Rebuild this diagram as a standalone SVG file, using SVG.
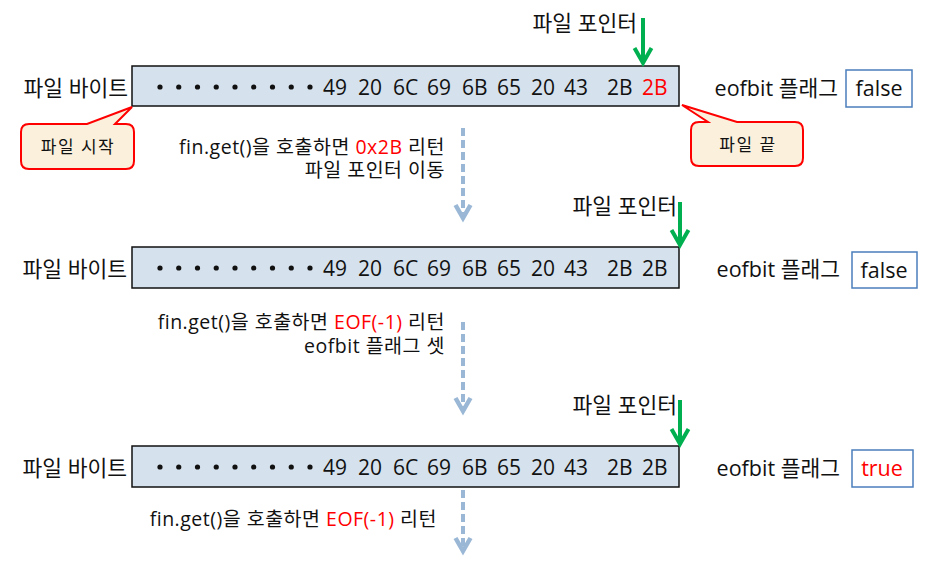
<svg xmlns="http://www.w3.org/2000/svg" width="932" height="561" viewBox="0 0 932 561">
<defs>
<style>
text{font-family:"Open Sans","Noto Sans CJK KR",sans-serif;fill:#111}
.lbl{font-size:21.5px}
.hex{font-size:21px}
.note{font-size:19.5px;letter-spacing:0.5px}
.call{font-size:17px;letter-spacing:1.5px}
.red{fill:#FF0000}
.bytes{fill:#D5E1EC;stroke:#111;stroke-width:1.5}
.flag{fill:#fff;stroke:#4A7EBB;stroke-width:1.5}
.callout{fill:#FAF0DC;stroke:#FF0000;stroke-width:2}
.ptr{stroke:#00B050;stroke-width:4;fill:none}
.step{stroke:#9AB8D6;stroke-width:4;stroke-dasharray:8 4;fill:none}
</style>
<marker id="gHead" markerUnits="userSpaceOnUse" viewBox="-18 -12 22 24" refX="0" refY="0" markerWidth="22" markerHeight="24" orient="auto" overflow="visible">
<path d="M-15,-8.5 L0,0 L-15,8.5" fill="none" stroke="#00B050" stroke-width="4"/>
</marker>
<marker id="bHead" markerUnits="userSpaceOnUse" viewBox="-16 -10 20 20" refX="0" refY="0" markerWidth="20" markerHeight="20" orient="auto" overflow="visible">
<path d="M-13,-7.5 L0,0 L-13,7.5" fill="none" stroke="#9AB8D6" stroke-width="4.5"/>
</marker>
<g id="dots">
<circle cx="160" cy="0" r="2.6"/><circle cx="178.75" cy="0" r="2.6"/><circle cx="197.5" cy="0" r="2.6"/><circle cx="216.25" cy="0" r="2.6"/><circle cx="235" cy="0" r="2.6"/><circle cx="253.75" cy="0" r="2.6"/><circle cx="272.5" cy="0" r="2.6"/><circle cx="291.25" cy="0" r="2.6"/><circle cx="310" cy="0" r="2.6"/>
</g>
</defs>

<!-- Row 1 -->
<g id="row1">
<text class="lbl" x="128" y="96" text-anchor="end">파일 바이트</text>
<rect class="bytes" x="132" y="66" width="547" height="40"/>
<use href="#dots" y="87" fill="#111"/>
<g class="hex">
<text x="323" y="95">49</text><text x="358" y="95">20</text><text x="393" y="95">6C</text><text x="427" y="95">69</text><text x="462" y="95">6B</text><text x="497" y="95">65</text><text x="531" y="95">20</text><text x="564" y="95">43</text><text x="607" y="95">2B</text><text x="642" y="95" class="red">2B</text>
</g>
<text class="lbl" x="637" y="31" text-anchor="end">파일 포인터</text>
<text class="lbl" x="838" y="96" text-anchor="end">eofbit 플래그</text>
<rect class="flag" x="846" y="70" width="66" height="37"/>
<text class="lbl" x="879" y="96" text-anchor="middle">false</text>
</g>

<g id="callout-start">
<path class="callout" d="M29,124 L87,124 L132,107 L115,124 L126,124 Q134,124 134,132 L134,161 Q134,169 126,169 L29,169 Q21,169 21,161 L21,132 Q21,124 29,124 Z"/>
<text class="call" x="78" y="153" text-anchor="middle">파일 시작</text>
</g>
<g id="callout-end">
<path class="callout" d="M699,122 L708,122 L682,105 L737,122 L795,122 Q803,122 803,130 L803,158 Q803,166 795,166 L699,166 Q691,166 691,158 L691,130 Q691,122 699,122 Z"/>
<text class="call" x="748" y="151" text-anchor="middle">파일 끝</text>
</g>

<g id="note1">
<text class="note" x="445" y="154" text-anchor="end">fin.get()을 호출하면 <tspan class="red">0x2B</tspan> 리턴</text>
<text class="note" x="445" y="177" text-anchor="end">파일 포인터 이동</text>
</g>

<!-- Row 2 -->
<g id="row2">
<text class="lbl" x="127" y="277" text-anchor="end">파일 바이트</text>
<rect class="bytes" x="132" y="247" width="547" height="41"/>
<use href="#dots" y="268" fill="#111"/>
<g class="hex">
<text x="323" y="276">49</text><text x="358" y="276">20</text><text x="393" y="276">6C</text><text x="427" y="276">69</text><text x="462" y="276">6B</text><text x="497" y="276">65</text><text x="531" y="276">20</text><text x="564" y="276">43</text><text x="607" y="276">2B</text><text x="642" y="276">2B</text>
</g>
<text class="lbl" x="677" y="214" text-anchor="end">파일 포인터</text>
<text class="lbl" x="840" y="277" text-anchor="end">eofbit 플래그</text>
<rect class="flag" x="852" y="252" width="65" height="36"/>
<text class="lbl" x="884" y="278" text-anchor="middle">false</text>
</g>

<g id="note2">
<text class="note" x="445" y="329" text-anchor="end">fin.get()을 호출하면 <tspan class="red">EOF(-1)</tspan> 리턴</text>
<text class="note" x="445" y="353" text-anchor="end">eofbit 플래그 셋</text>
</g>

<!-- Row 3 -->
<g id="row3">
<text class="lbl" x="127" y="476" text-anchor="end">파일 바이트</text>
<rect class="bytes" x="132" y="446" width="547" height="41"/>
<use href="#dots" y="467" fill="#111"/>
<g class="hex">
<text x="323" y="475">49</text><text x="358" y="475">20</text><text x="393" y="475">6C</text><text x="427" y="475">69</text><text x="462" y="475">6B</text><text x="497" y="475">65</text><text x="531" y="475">20</text><text x="564" y="475">43</text><text x="607" y="475">2B</text><text x="642" y="475">2B</text>
</g>
<text class="lbl" x="677" y="413" text-anchor="end">파일 포인터</text>
<text class="lbl" x="840" y="476" text-anchor="end">eofbit 플래그</text>
<rect class="flag" x="852" y="450" width="61" height="37"/>
<text class="lbl red" x="882" y="476" text-anchor="middle">true</text>
</g>

<g id="note3">
<text class="note" x="437" y="526" text-anchor="end">fin.get()을 호출하면 <tspan class="red">EOF(-1)</tspan> 리턴</text>
</g>

<g id="connectors">
<line class="ptr" x1="643" y1="18" x2="643" y2="63" marker-end="url(#gHead)"/>
<line class="ptr" x1="680" y1="202" x2="680" y2="245" marker-end="url(#gHead)"/>
<line class="ptr" x1="680" y1="400" x2="680" y2="444" marker-end="url(#gHead)"/>
<line class="step" x1="463" y1="128" x2="463" y2="218" marker-end="url(#bHead)"/>
<line class="step" x1="463" y1="322" x2="463" y2="411" marker-end="url(#bHead)"/>
<line class="step" x1="463" y1="490" x2="463" y2="551" marker-end="url(#bHead)"/>
</g>
</svg>
